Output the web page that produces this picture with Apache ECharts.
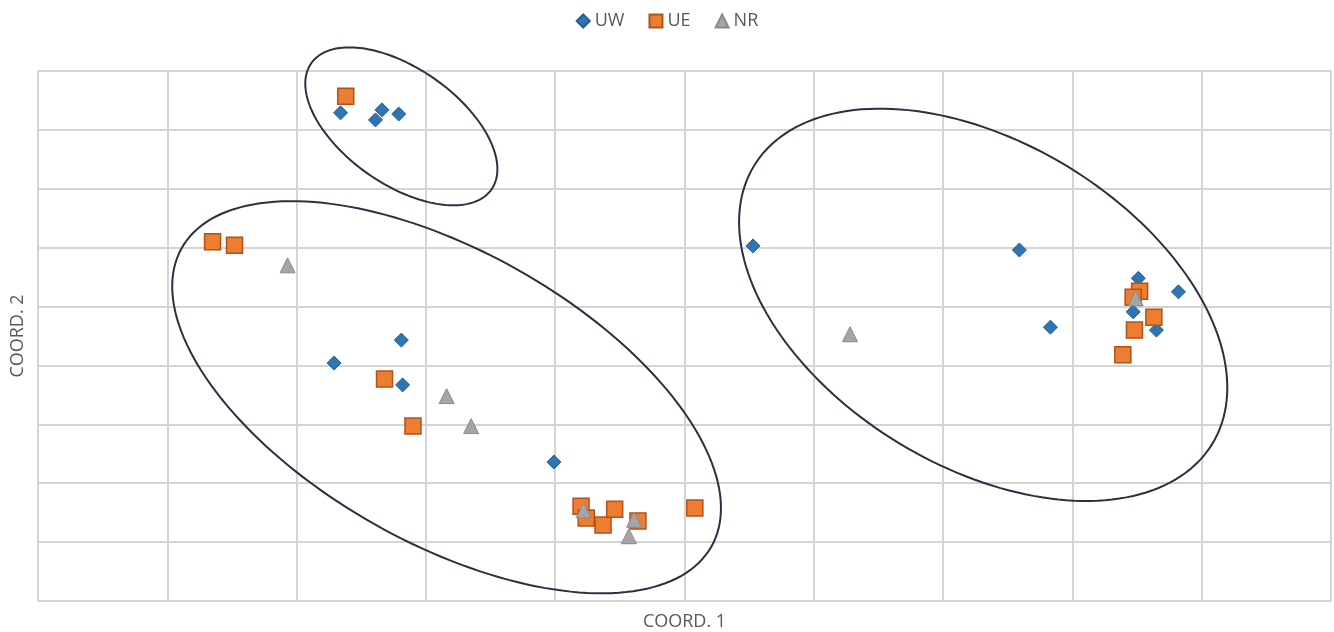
<!DOCTYPE html>
<html>
<head>
    <meta charset="utf-8">
    <title>coord scatter</title>
    <script src="https://cdn.jsdelivr.net/npm/echarts@6/dist/echarts.min.js"></script>
    <style>
        html, body { margin: 0; padding: 0; background: #fff; }
        #main { width: 1334px; height: 632px; }
    </style>
</head>
<body>
<div id="main"></div>
<script>
    // points, [coord1, coord2]
    var uw = [
        [2.34, 8.29], [2.61, 8.17], [2.66, 8.34], [2.79, 8.27],
        [2.29, 4.04], [2.81, 4.43], [2.82, 3.67], [3.99, 2.36],
        [5.53, 6.03], [7.59, 5.96], [7.83, 4.65],
        [8.51, 5.48], [8.82, 5.25], [8.47, 4.91], [8.65, 4.60]
    ];
    var ue = [
        [2.38, 8.57], [1.35, 6.10], [1.52, 6.04], [2.68, 3.77], [2.90, 2.97],
        [4.20, 1.61], [4.24, 1.41], [4.37, 1.29], [4.46, 1.56], [4.64, 1.36], [5.08, 1.58],
        [8.52, 5.26], [8.47, 5.16], [8.63, 4.82], [8.48, 4.60], [8.39, 4.18]
    ];
    var nr = [
        [1.93, 5.70], [3.16, 3.48], [3.35, 2.97], [6.28, 4.53],
        [4.22, 1.54], [4.57, 1.10], [4.61, 1.38], [8.49, 5.14]
    ];
    // hand drawn rings: centre [coord1, coord2], semi axes (px), tilt (deg)
    var rings = [
        [2.81, 8.06, 110, 58, 35],
        [3.16, 3.46, 304, 146, 29.4],
        [7.31, 5.03, 268, 162, 31.2]
    ];

    var chart = echarts.init(document.getElementById('main'));

    function ringItem(params, api) {
        var c = api.coord([api.value(0), api.value(1)]);
        var a = api.value(2), b = api.value(3), th = api.value(4) * Math.PI / 180;
        var pts = [];
        for (var i = 0; i < 180; i++) {
            var t = i / 180 * Math.PI * 2;
            var ex = a * Math.cos(t), ey = b * Math.sin(t);
            pts.push([c[0] + ex * Math.cos(th) - ey * Math.sin(th),
                      c[1] + ex * Math.sin(th) + ey * Math.cos(th)]);
        }
        return {
            type: 'polygon',
            shape: {points: pts},
            silent: true,
            style: {fill: 'none', stroke: '#2a3140', lineWidth: 2}
        };
    }

    var gridLine = {show: true, lineStyle: {color: '#d4d4d4', width: 2}};

    chart.setOption({
        animation: false,
        textStyle: {fontFamily: 'Open Sans'},
        legend: {
            data: ['UW', 'UE', 'NR'],
            top: 7,
            left: 'center',
            itemWidth: 13,
            itemHeight: 13,
            itemGap: 24,
            textStyle: {color: '#595959', fontSize: 18}
        },
        grid: {left: 38, right: 3, top: 71, bottom: 31, outerBoundsMode: 'none', containLabel: false},
        xAxis: {
            type: 'value', min: 0, max: 10, interval: 1,
            name: 'COORD. 1', nameLocation: 'middle', nameGap: 12,
            nameTextStyle: {color: '#595959', fontSize: 18},
            axisLine: {show: false}, axisTick: {show: false}, axisLabel: {show: false},
            splitLine: gridLine
        },
        yAxis: {
            type: 'value', min: 0, max: 9, interval: 1,
            name: 'COORD. 2', nameLocation: 'middle', nameGap: 11,
            nameTextStyle: {color: '#595959', fontSize: 18},
            axisLine: {show: false}, axisTick: {show: false}, axisLabel: {show: false},
            splitLine: gridLine
        },
        series: [{
            name: 'UW',
            type: 'scatter',
            symbol: 'diamond',
            symbolSize: 14,
            itemStyle: {color: '#2e75b6', borderColor: '#245d92', borderWidth: 1, opacity: 1},
            data: uw
        }, {
            name: 'UE',
            type: 'scatter',
            symbol: 'rect',
            symbolSize: 16,
            itemStyle: {color: '#ed7d31', borderColor: '#b0531a', borderWidth: 1.5, opacity: 1},
            data: ue
        }, {
            name: 'NR',
            type: 'scatter',
            symbol: 'triangle',
            symbolSize: 15,
            itemStyle: {color: '#a5a5a5', borderColor: '#8a8a8a', borderWidth: 1, opacity: 1},
            data: nr
        }, {
            name: 'rings',
            type: 'custom',
            renderItem: ringItem,
            data: rings,
            z: 1
        }]
    });
</script>
</body>
</html>
